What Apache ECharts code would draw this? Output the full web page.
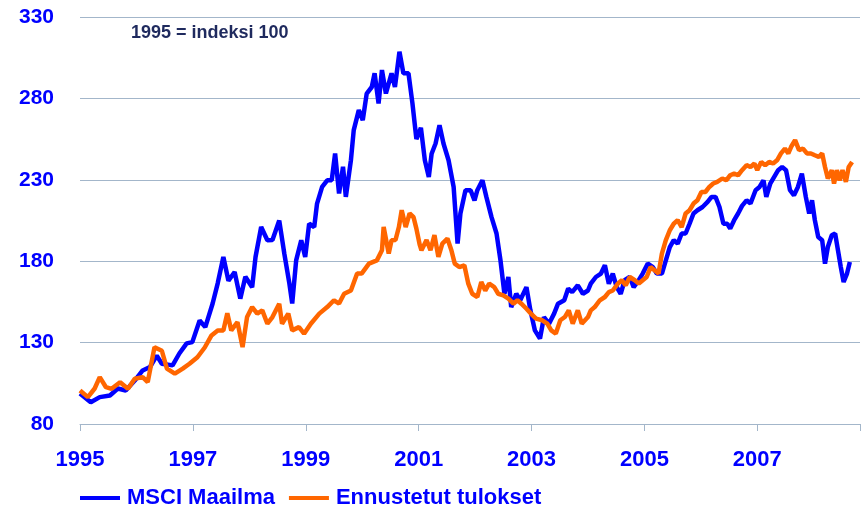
<!DOCTYPE html>
<html>
<head>
<meta charset="utf-8">
<script src="https://cdn.jsdelivr.net/npm/echarts@6/dist/echarts.min.js"></script>
<style>html,body{margin:0;padding:0;background:#fff}#c{width:863px;height:508px}</style>
</head>
<body>
<div id="c"></div>
<script>
const seriesNames = ['MSCI Maailma', 'Ennustetut tulokset'];
const noteText = '1995 = indeksi 100';
const xTickYears = [1995, 1997, 1999, 2001, 2003, 2005, 2007];
const yTicks = [80, 130, 180, 230, 280, 330];

const msciYears = [1995.00,1995.19,1995.35,1995.53,1995.67,1995.81,1995.97,1996.11,1996.24,1996.36,
1996.45,1996.64,1996.76,1996.89,1996.99,1997.12,1997.22,1997.35,1997.44,1997.54,
1997.63,1997.74,1997.84,1997.93,1998.05,1998.11,1998.21,1998.32,1998.41,1998.53,
1998.62,1998.71,1998.76,1998.83,1998.92,1998.99,1999.06,1999.15,1999.20,1999.29,
1999.38,1999.46,1999.52,1999.59,1999.66,1999.71,1999.80,1999.85,1999.94,2000.01,
2000.08,2000.17,2000.22,2000.29,2000.35,2000.42,2000.52,2000.58,2000.66,2000.73,
2000.82,2000.89,2000.96,2001.04,2001.11,2001.18,2001.23,2001.30,2001.37,2001.44,
2001.53,2001.62,2001.69,2001.74,2001.83,2001.92,2001.99,2002.04,2002.13,2002.20,
2002.29,2002.38,2002.45,2002.52,2002.59,2002.64,2002.73,2002.80,2002.91,2002.98,
2003.06,2003.15,2003.22,2003.31,2003.40,2003.47,2003.58,2003.65,2003.72,2003.82,
2003.91,2004.00,2004.05,2004.14,2004.23,2004.30,2004.37,2004.44,2004.51,2004.58,
2004.65,2004.74,2004.81,2004.90,2004.97,2005.06,2005.15,2005.22,2005.31,2005.38,
2005.45,2005.52,2005.59,2005.66,2005.73,2005.80,2005.87,2005.94,2006.03,2006.12,
2006.19,2006.26,2006.33,2006.40,2006.47,2006.52,2006.59,2006.66,2006.73,2006.81,
2006.88,2006.97,2007.04,2007.11,2007.16,2007.23,2007.30,2007.37,2007.44,2007.51,
2007.58,2007.65,2007.72,2007.79,2007.86,2007.92,2007.97,2008.02,2008.08,2008.15,
2008.20,2008.25,2008.32,2008.38,2008.43,2008.48,2008.53,2008.59,2008.64];
const msciValues = [98.8,93.4,96.5,97.5,101.8,100.6,106.7,112.9,115,122,
117,116,123.3,129.5,130.3,143.6,139.5,154,166.4,182.6,
168,173.4,157,170.5,164,182.6,201,192.9,193,205,
184.6,166.2,154,180.5,192.9,182.6,203,201,215.4,225.6,
229.7,229.7,246.2,221.6,238,219.5,242,260.5,272.8,266.7,
283,287,295.4,276.9,297.4,283,295.4,287,308.7,295.4,
295.4,277,255,262,242,231.8,246,252.3,263.6,252.3,
242,225.6,190.8,209.3,223.6,223.6,217.4,223.6,229.7,219.5,
207.2,197,180.5,160,170.3,151.8,160,156,164.1,149.8,
137.5,132.4,145.7,141.6,147.8,153.9,156,163.2,161,165.2,
160,162,166.2,170.3,172.4,177.5,166.2,172.4,164.1,160,
168.3,170.3,164.1,168.3,172.4,178.5,176.4,172.4,172.4,180.5,
188.7,192.9,190.8,197,197,203,209.3,211.3,213.3,216.4,
219.5,219.5,213.3,203,203,200,205.2,209.3,214,217.4,
215.4,223.6,225.6,229.7,219.5,227.7,231.8,235.9,237.9,235.9,
223.6,220.5,225.6,233.8,219.5,209.3,217.4,205.2,194.9,192.9,
178.5,188.7,195.9,197,186.7,176.4,167.2,172.4,179.5];

const earnYears = [1995.00,1995.14,1995.26,1995.35,1995.46,1995.56,1995.71,1995.85,1995.97,1996.11,
1996.20,1996.32,1996.45,1996.54,1996.68,1996.82,1996.94,1997.08,1997.21,1997.33,
1997.44,1997.54,1997.61,1997.68,1997.79,1997.88,1997.96,1998.05,1998.14,1998.23,
1998.32,1998.41,1998.53,1998.58,1998.69,1998.76,1998.88,1998.97,1999.09,1999.24,
1999.38,1999.50,1999.59,1999.68,1999.80,1999.91,1999.99,2000.12,2000.26,2000.35,
2000.38,2000.47,2000.52,2000.59,2000.65,2000.70,2000.77,2000.84,2000.91,2000.96,
2001.02,2001.05,2001.14,2001.21,2001.28,2001.35,2001.42,2001.51,2001.58,2001.64,
2001.72,2001.81,2001.88,2001.95,2002.04,2002.11,2002.18,2002.25,2002.34,2002.41,
2002.50,2002.59,2002.68,2002.75,2002.82,2002.91,2002.99,2003.08,2003.19,2003.28,
2003.35,2003.43,2003.51,2003.59,2003.66,2003.73,2003.82,2003.89,2004.00,2004.05,
2004.12,2004.21,2004.30,2004.37,2004.44,2004.53,2004.60,2004.67,2004.74,2004.83,
2004.90,2004.97,2005.04,2005.11,2005.18,2005.25,2005.31,2005.38,2005.45,2005.52,
2005.59,2005.66,2005.73,2005.80,2005.87,2005.94,2006.01,2006.08,2006.15,2006.22,
2006.29,2006.38,2006.45,2006.52,2006.59,2006.66,2006.73,2006.81,2006.88,2006.95,
2007.00,2007.07,2007.14,2007.21,2007.28,2007.35,2007.42,2007.49,2007.55,2007.60,
2007.67,2007.74,2007.81,2007.88,2007.95,2008.02,2008.09,2008.15,2008.20,2008.25,
2008.32,2008.36,2008.41,2008.46,2008.51,2008.57,2008.62,2008.68];
const earnValues = [100.6,96.5,101.8,108.8,102.6,101.6,105.7,101.6,107.8,108.8,
105.7,127.2,125,114,110.9,114,117,121,127,134.4,
137.5,137.5,148,137.5,142.6,127.2,145.7,151.8,147.8,149.8,
141.6,145.7,153.9,141.6,147.8,137.5,139.5,135.5,141.6,147.8,
151.8,156,154,160,162,172.4,172.4,178.5,180.5,186.7,
201,184.7,192.9,193,201,211.3,201,209.3,207,200,
190,186.7,193,186.7,196,182.6,190.8,193.9,186.7,178.5,
176.4,177.5,166.2,160,158,167.2,162,166.2,164.1,160,
159,157,153.9,156,153.9,150.8,147.8,144.7,143.7,141.6,
137.5,135.5,143.7,145.7,149.8,141.6,149.8,141.6,145.7,149.8,
151.8,156,158,161,162,166.2,168.3,165.2,170.3,168.3,
166.2,168.3,170.3,176.4,174.4,172.4,184.7,192.9,199,203,
205.2,201,209.3,211.3,215.4,217.4,222.5,222.5,225.6,227.7,
228.7,230.8,229.7,232.8,233.8,232.8,235.9,239,237.9,240,
236,241,239,241,240,242,246.2,249.2,246.2,250.3,
254.4,248.2,249.2,246.2,246.2,245.1,244.1,246.2,237.9,230.8,
235.9,227.7,235.9,229.7,235.9,228.7,237.9,241];

const msciData = msciYears.map((y, i) => [y, msciValues[i]]);
const earnData = earnYears.map((y, i) => [y, earnValues[i]]);

const chart = echarts.init(document.getElementById('c'), null, {renderer: 'canvas'});
const blue = '#0000FF', orange = '#FF6600', gridColor = '#A3B6CA';
chart.setOption({
  animation: false,
  backgroundColor: '#ffffff',
  title: {
    text: noteText, left: 126, top: 19,
    textStyle: {fontFamily: 'Liberation Sans, Arial, sans-serif', fontWeight: 'bold', fontSize: 18, color: '#1F2A5E'}
  },
  legend: {
    left: 80, top: 487, padding: 0, icon: 'rect', itemWidth: 40, itemHeight: 4, itemGap: 14,
    textStyle: {fontFamily: 'Liberation Sans, Arial, sans-serif', fontWeight: 'bold', fontSize: 22, color: blue, padding: [0, 0, 0, 2]},
    data: seriesNames
  },
  grid: {left: 80, right: 0, top: 17, bottom: 84},
  xAxis: {
    type: 'value', min: 1995, max: 2008.82, interval: 2,
    axisLine: {show: true, lineStyle: {color: gridColor, width: 1}},
    axisTick: {show: true, length: 7, lineStyle: {color: gridColor}},
    splitLine: {show: false},
    axisLabel: {
      margin: 25, color: blue, fontWeight: 'bold', fontSize: 22,
      fontFamily: 'Liberation Sans, Arial, sans-serif',
      formatter: v => xTickYears.indexOf(Math.round(v * 100) / 100) >= 0 ? String(Math.round(v)) : ''
    }
  },
  yAxis: {
    type: 'value', min: yTicks[0], max: yTicks[yTicks.length - 1], interval: 50,
    axisLine: {show: false}, axisTick: {show: false},
    splitLine: {show: true, lineStyle: {color: gridColor, width: 1}},
    axisLabel: {
      margin: 26, color: blue, fontWeight: 'bold', fontSize: 21,
      fontFamily: 'Liberation Sans, Arial, sans-serif'
    }
  },
  series: [
    {name: seriesNames[0], type: 'line', data: msciData, symbol: 'none', smooth: false,
     lineStyle: {color: blue, width: 4.5}, itemStyle: {color: blue}},
    {name: seriesNames[1], type: 'line', data: earnData, symbol: 'none', smooth: false,
     lineStyle: {color: orange, width: 4.5}, itemStyle: {color: orange}}
  ]
});
</script>
</body>
</html>
